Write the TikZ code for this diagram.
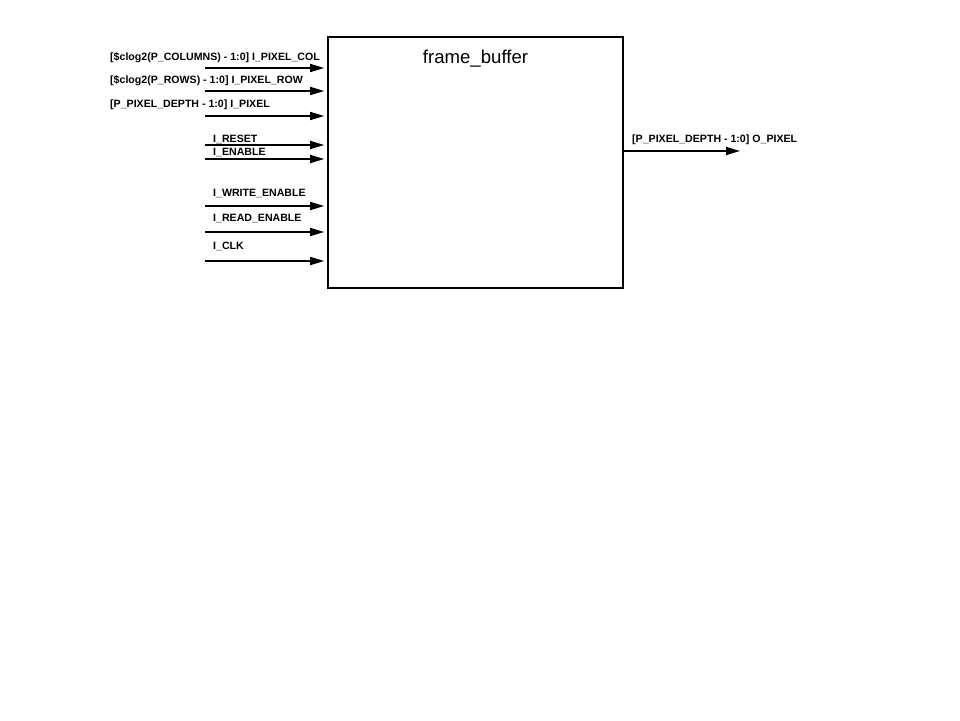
\documentclass[tikz,border=0pt]{standalone}
\usepackage{fontspec}
\setmainfont{Liberation Sans}
\usetikzlibrary{arrows.meta}
\begin{document}
\begin{tikzpicture}[x=1pt,y=-1pt,
  sig/.style={line width=1.6pt,-{Triangle[length=14pt,width=8pt]}},
  lbl/.style={anchor=west,inner sep=0pt,font=\bfseries\fontsize{10.6}{12}\selectfont},
  blk/.style={draw,line width=1.6pt,minimum width=295pt,minimum height=251pt,inner sep=0pt}]
\useasboundingbox (0,0) rectangle (960,720);
\node[blk] (fb) at (475.5,162.5) {};
\node[font=\fontsize{18.6}{22}\selectfont] (title) at (475.5,59) {frame\_buffer};
% inputs
\coordinate (s1) at (205,68);
\coordinate (s2) at (205,91);
\coordinate (s3) at (205,116);
\coordinate (s4) at (205,145);
\coordinate (s5) at (205,159);
\coordinate (s6) at (205,206);
\coordinate (s7) at (205,232);
\coordinate (s8) at (205,261);
\foreach \i in {1,...,8}{\draw[sig,shorten >=3pt] (s\i) -- (s\i -| fb.west);}
\node[lbl] (l1) at (110,57.5) {[\$clog2(P\_COLUMNS) - 1:0] I\_PIXEL\_COL};
\node[lbl] (l2) at (110,80.5) {[\$clog2(P\_ROWS) - 1:0] I\_PIXEL\_ROW};
\node[lbl] (l3) at (110,104.5) {[P\_PIXEL\_DEPTH - 1:0] I\_PIXEL};
\node[lbl] (l4) at (213,139.5) {I\_RESET};
\node[lbl] (l5) at (213,152.5) {I\_ENABLE};
\node[lbl] (l6) at (213,193.5) {I\_WRITE\_ENABLE};
\node[lbl] (l7) at (213,218.5) {I\_READ\_ENABLE};
\node[lbl] (l8) at (213,246.5) {I\_CLK};
% output
\coordinate (o1) at (740,151);
\draw[sig] (o1 -| fb.east) -- (o1);
\node[lbl] (lo) at (632,139.5) {[P\_PIXEL\_DEPTH - 1:0] O\_PIXEL};
\end{tikzpicture}
\end{document}
